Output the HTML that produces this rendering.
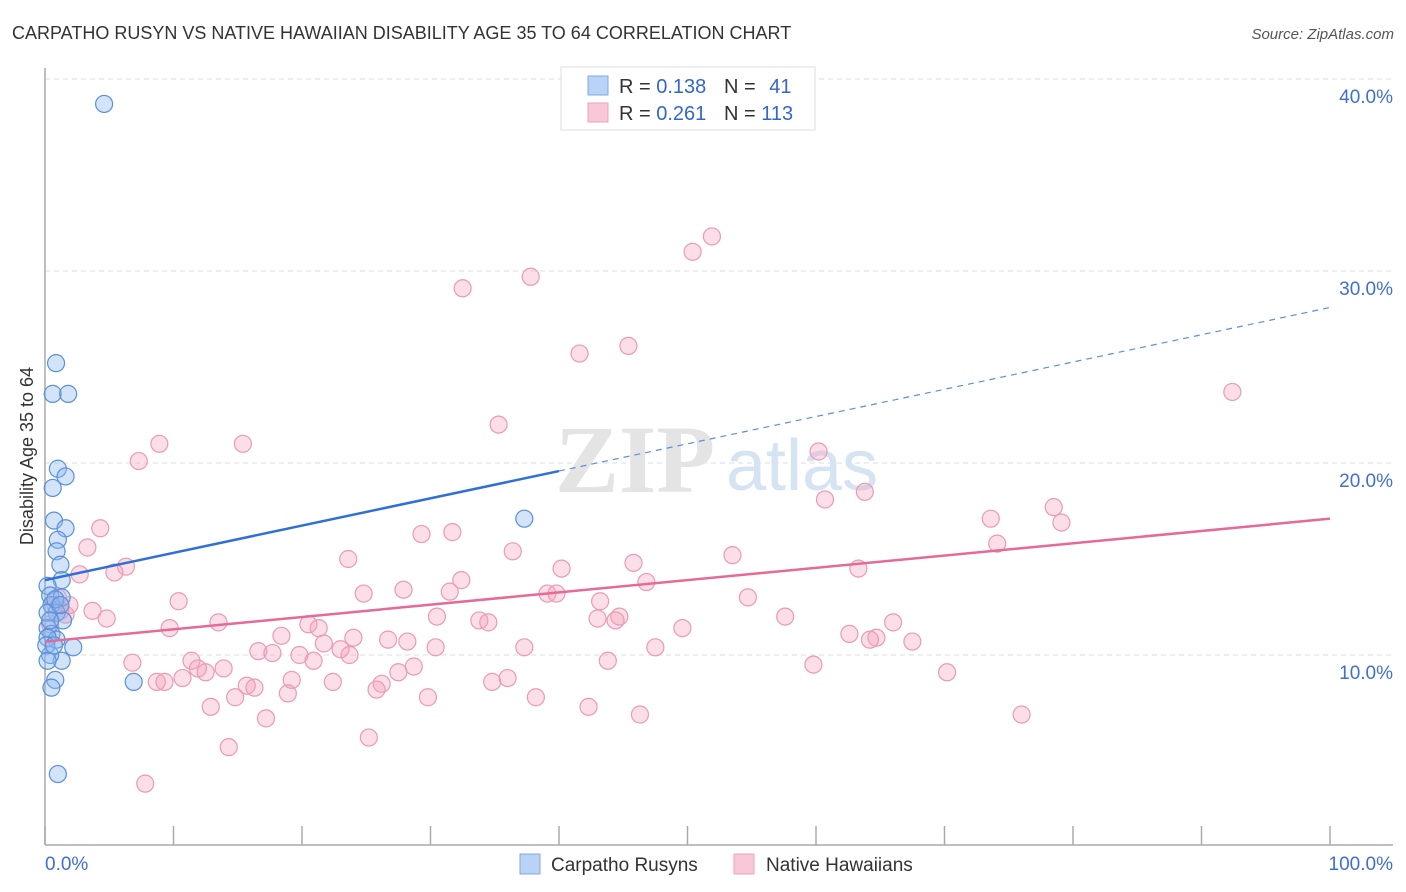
<!DOCTYPE html>
<html><head><meta charset="utf-8">
<style>
body{margin:0;background:#fff;font-family:"Liberation Sans",sans-serif;}
svg{display:block}
</style></head>
<body>
<svg id="chart" width="1406" height="892">
<text x="12" y="39" font-size="18" fill="#333">CARPATHO RUSYN VS NATIVE HAWAIIAN DISABILITY AGE 35 TO 64 CORRELATION CHART</text>
<text x="1394" y="39" font-size="15" fill="#555" font-style="italic" text-anchor="end">Source: ZipAtlas.com</text>
<text x="0" y="0" font-size="18" fill="#333" text-anchor="middle" transform="translate(33,456) rotate(-90)">Disability Age 35 to 64</text>
<g id="grid"></g>
<g id="watermark">
<text x="635" y="492" font-size="96" fill="#e4e4e4" font-family="Liberation Serif,serif" text-anchor="middle" font-weight="bold">ZIP</text>
<text x="802" y="490" font-size="72" fill="#d6e3f3" text-anchor="middle">atlas</text>
</g>
<g id="axes"></g>
<g id="pinkPts"></g>
<g id="bluePts"></g>
<g id="trends"></g>
<g>
<rect x="561" y="67" width="254" height="63" fill="#fff" stroke="#ddd"/>
<rect x="588" y="76" width="20" height="19" fill="#b8d3f5" stroke="#7ea9e0"/>
<rect x="588" y="103" width="20" height="19" fill="#f9c7d6" stroke="#eea0b8"/>
<text x="619" y="93" font-size="20" fill="#333">R = <tspan fill="#3366cc">0.138</tspan></text>
<text x="724" y="93" font-size="20" fill="#333">N = <tspan fill="#3366cc" dx="8">41</tspan></text>
<text x="619" y="120" font-size="20" fill="#333">R = <tspan fill="#3366cc">0.261</tspan></text>
<text x="724" y="120" font-size="20" fill="#333">N = <tspan fill="#3366cc">113</tspan></text>
</g>
<g>
<rect x="520" y="854" width="20" height="20" fill="#b8d3f5" stroke="#7ea9e0"/>
<text x="551" y="871" font-size="19" fill="#333">Carpatho Rusyns</text>
<rect x="734" y="854" width="20" height="20" fill="#f9c7d6" stroke="#eea0b8"/>
<text x="766" y="871" font-size="19" fill="#333">Native Hawaiians</text>
</g>
</svg>
<script>
const yTicks=[10,20,30,40];
const yTickLabels=["10.0%","20.0%","30.0%","40.0%"];
const xTickLabels=["0.0%","100.0%"];
const blueX=[4.6,0.86,0.6,1.8,1.0,1.6,0.6,0.7,1.6,1.0,0.9,1.2,1.3,0.2,0.4,1.3,0.5,0.9,0.2,1.4,0.2,0.5,0.9,0.2,2.2,1.3,0.4,0.8,0.5,1.0,6.9,37.3,0.4,0.8,0.1,1.2,0.2,0.7];
const blueY=[38.7,25.2,23.6,23.6,19.7,19.3,18.7,17.0,16.6,16.0,15.4,14.7,13.9,13.6,13.1,13.0,12.6,12.2,12.2,11.8,11.4,11.1,10.8,10.9,10.4,9.7,10.0,8.7,8.3,3.8,8.6,17.1,11.8,12.9,10.5,12.6,9.7,10.5];
const pinkX=[37.8,32.5,50.4,51.9,41.6,45.4,92.4,35.3,60.2,8.9,15.4,7.3,60.7,63.8,78.5,79.1,73.6,74.1,29.3,31.7,4.3,3.3,36.4,53.5,23.6,40.2,45.8,63.3,6.3,5.4,2.7,32.4,46.8,27.9,31.5,24.8,39.1,39.8,43.2,10.4,3.7,4.8,54.7,57.6,43.0,44.7,44.4,33.8,34.5,30.5,13.5,20.5,21.3,9.7,49.6,66.0,64.7,62.6,64.2,67.5,18.4,21.7,26.7,28.2,24.0,30.4,23.0,37.3,47.5,16.6,17.7,19.8,20.9,23.7,11.4,6.8,43.8,28.7,11.9,12.5,13.9,10.7,8.7,9.3,19.2,15.7,16.3,22.4,26.2,27.5,25.8,18.9,29.8,34.8,36.0,38.2,12.9,14.8,17.2,42.3,46.3,59.8,70.2,76.0,14.3,25.2,7.8,0.8,1.2,1.6,0.4,1.0,1.9];
const pinkY=[29.7,29.1,31.0,31.8,25.7,26.1,23.7,22.0,20.6,21.0,21.0,20.1,18.1,18.5,17.7,16.9,17.1,15.8,16.3,16.4,16.6,15.6,15.4,15.2,15.0,14.5,14.8,14.5,14.6,14.3,14.2,13.9,13.8,13.4,13.3,13.2,13.2,13.2,12.8,12.8,12.3,11.9,13.0,12.0,11.9,12.0,11.8,11.8,11.7,12.0,11.7,11.6,11.4,11.4,11.4,11.7,10.9,11.1,10.8,10.7,11.0,10.6,10.8,10.7,10.9,10.4,10.3,10.4,10.4,10.2,10.1,10.0,9.7,10.0,9.7,9.6,9.7,9.4,9.3,9.1,9.3,8.8,8.6,8.6,8.7,8.4,8.3,8.6,8.5,9.1,8.2,8.0,7.8,8.6,8.8,7.8,7.3,7.8,6.7,7.3,6.9,9.5,9.1,6.9,5.2,5.7,3.3,12.6,12.3,12.1,11.6,13.0,12.6];
const blueTrend=[13.9,28.1];
const blueSolidEnd=40;
const pinkTrend=[10.7,17.1];

const NS="http://www.w3.org/2000/svg";
function sx(v){return 45+v*12.85;}
function sy(v){return 847-v*19.2;}
function mk(tag,attrs,parent){const e=document.createElementNS(NS,tag);for(const k in attrs)e.setAttribute(k,attrs[k]);parent.appendChild(e);return e;}
const grid=document.getElementById('grid'),axes=document.getElementById('axes');
yTicks.forEach((t,i)=>{
  const g=mk('line',{x1:45,x2:1393,y1:sy(t),y2:sy(t),stroke:'#ddd','stroke-dasharray':'5,4'},grid);
  
  
  const l=mk('text',{x:1393,y:sy(t)+24,'font-size':19,fill:'#3f6fd0','text-anchor':'end'},axes);
  l.textContent=yTickLabels[i];
  
  
});
const ya=mk('line',{x1:45,x2:45,y1:68,y2:845,stroke:'#aaa','stroke-width':1.5},axes);


const xa=mk('line',{x1:45,x2:1393,y1:845,y2:845,stroke:'#aaa','stroke-width':1.5},axes);


for(let i=0;i<=10;i++){
  const t=mk('line',{x1:sx(i*10),x2:sx(i*10),y1:826,y2:845,stroke:'#aaa','stroke-width':1.5},axes);
  
  
}
const xl0=mk('text',{x:45,y:870,'font-size':19,fill:'#3f6fd0'},axes);
xl0.textContent=xTickLabels[0];


const xl1=mk('text',{x:1393,y:870,'font-size':19,fill:'#3f6fd0','text-anchor':'end'},axes);
xl1.textContent=xTickLabels[1];



const pg=document.getElementById('pinkPts');
pinkX.forEach((x,i)=>{
  const c=mk('circle',{cx:sx(x),cy:sy(pinkY[i]),r:8.5,fill:'rgba(244,160,186,0.35)',stroke:'#eb9ab3','stroke-width':1.2},pg);
  
  
});
const bg=document.getElementById('bluePts');
blueX.forEach((x,i)=>{
  const c=mk('circle',{cx:sx(x),cy:sy(blueY[i]),r:8.5,fill:'rgba(140,185,240,0.38)',stroke:'#5a8fdb','stroke-width':1.2},bg);
  
  
});
const tg=document.getElementById('trends');
function bAt(x){return blueTrend[0]+(blueTrend[1]-blueTrend[0])*x/100;}
const bs=mk('line',{x1:sx(0),y1:sy(bAt(0)),x2:sx(blueSolidEnd),y2:sy(bAt(blueSolidEnd)),stroke:'#2f6fd6','stroke-width':2.5},tg);


const bd=mk('line',{x1:sx(blueSolidEnd),y1:sy(bAt(blueSolidEnd)),x2:sx(100),y2:sy(bAt(100)),stroke:'#5a8fdb','stroke-width':1.2,'stroke-dasharray':'6,5'},tg);


const pl=mk('line',{x1:sx(0),y1:sy(pinkTrend[0]),x2:sx(100),y2:sy(pinkTrend[1]),stroke:'#e56a96','stroke-width':2.5},tg);


</script>
</body></html>
